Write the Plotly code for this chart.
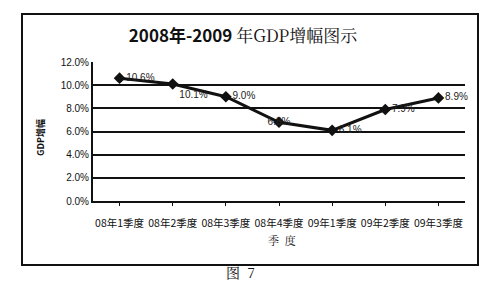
import plotly.graph_objects as go

quarters = ["08年1季度", "08年2季度", "08年3季度", "08年4季度", "09年1季度", "09年2季度", "09年3季度"]
gdp_growth = [10.6, 10.1, 9.0, 6.8, 6.1, 7.9, 8.9]
value_labels = ["10.6%", "10.1%", "9.0%", "6.8%", "6.1%", "7.9%", "8.9%"]
y_ticks = [0, 2, 4, 6, 8, 10, 12]
y_tick_labels = ["0.0%", "2.0%", "4.0%", "6.0%", "8.0%", "10.0%", "12.0%"]

W, H = 504, 295
L, R, T, B = 93, 465, 62, 201

def px(x):
    return (x - L) / (R - L)

def py(y):
    return (B - y) / (B - T)

fig = go.Figure()
fig.add_trace(go.Scatter(
    x=quarters, y=gdp_growth, mode="lines+markers+text",
    line=dict(color="#111", width=3),
    marker=dict(symbol="diamond", size=9, color="#111"),
    text=value_labels,
    textposition=["middle right", "bottom right", "middle right", "middle center",
                  "middle right", "middle right", "middle right"],
    textfont=dict(family="Liberation Sans, Arial", size=10, color="#222"),
    cliponaxis=False, showlegend=False,
))

fig.update_layout(
    width=W, height=H,
    margin=dict(l=L, r=W - R, t=T, b=H - B),
    paper_bgcolor="white", plot_bgcolor="white",
    font=dict(family="Noto Sans CJK SC", color="#111"),
    title=dict(
        text="<b>2008年-2009</b> <span style='font-family:Noto Serif CJK SC, serif'>年GDP增幅图示</span>",
        x=243 / W, y=1 - 36 / H, xanchor="center", yanchor="middle",
        font=dict(size=17, family="Noto Sans CJK SC", color="#111"),
    ),
    xaxis=dict(
        type="category", showgrid=False, showline=True, linecolor="#111", linewidth=2,
        ticks="outside", ticklen=3, tickcolor="#111",
        tickfont=dict(size=10.5, family="Noto Sans CJK SC"),
        ticklabelstandoff=8,
        range=[-0.5, 6.5],
    ),
    yaxis=dict(
        range=[0, 12], tickvals=y_ticks, ticktext=y_tick_labels,
        showgrid=True, gridcolor="#111", gridwidth=1.5,
        showline=True, linecolor="#111", linewidth=2,
        tickfont=dict(size=10, family="Liberation Sans, Arial"),
        zeroline=False,
    ),
    shapes=[dict(type="rect", xref="paper", yref="paper",
                 x0=px(22), x1=px(478), y0=py(265), y1=py(14),
                 line=dict(color="#111", width=2))],
    annotations=[
        dict(text="<b>GDP增幅</b>", xref="paper", yref="paper", x=px(40), y=py(137),
             xanchor="center", yanchor="middle",
             textangle=-90, showarrow=False, font=dict(size=9)),
        dict(text="季  度", xref="paper", yref="paper", x=px(282), y=py(240),
             xanchor="center", yanchor="middle",
             showarrow=False, font=dict(size=11, family="Noto Serif CJK SC, serif")),
        dict(text="图  7", xref="paper", yref="paper", x=px(240), y=py(272),
             xanchor="center", yanchor="middle",
             showarrow=False, font=dict(size=14, family="Noto Serif CJK SC, serif")),
    ],
)

fig.write_html("out.html")
